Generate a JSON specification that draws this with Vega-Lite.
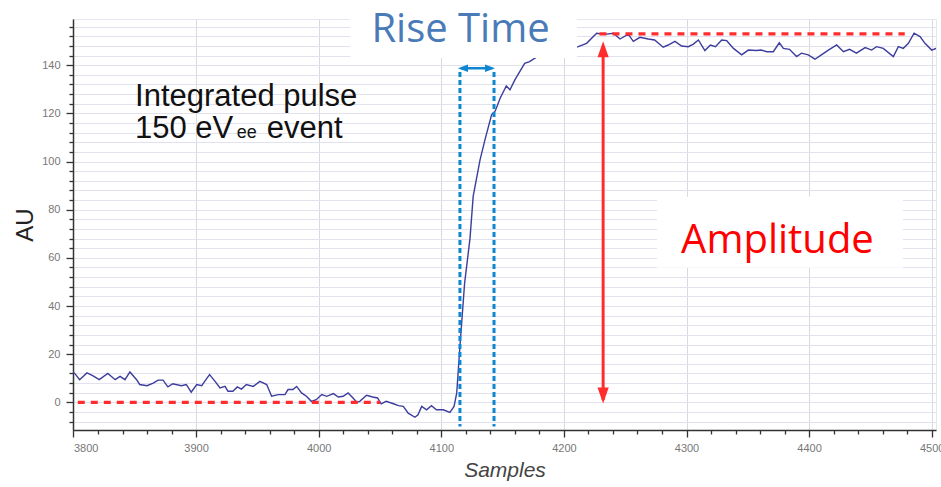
{
  "$schema": "https://vega.github.io/schema/vega-lite/v6.json",
  "width": 863,
  "height": 411,
  "autosize": {"type": "none"},
  "padding": {"left": 73, "top": 19, "right": 5, "bottom": 57},
  "background": "white",
  "config": {"view": {"stroke": "#e6e6ee", "strokeWidth": 1}},
  "datasets": {
    "pulse": [
      {"sample": 3799.6, "value": 12.5}, {"sample": 3801, "value": 12}, {"sample": 3805, "value": 9.4}, {"sample": 3811, "value": 12.2},
      {"sample": 3816, "value": 11}, {"sample": 3821, "value": 9.4}, {"sample": 3828, "value": 12}, {"sample": 3834, "value": 9.4},
      {"sample": 3838, "value": 10.8}, {"sample": 3842, "value": 9.4}, {"sample": 3846, "value": 12.6}, {"sample": 3851.5, "value": 9.4},
      {"sample": 3854, "value": 7.4}, {"sample": 3860, "value": 6.9}, {"sample": 3865, "value": 8}, {"sample": 3869, "value": 9.2},
      {"sample": 3873, "value": 9.2}, {"sample": 3877, "value": 6.4}, {"sample": 3881, "value": 7.7}, {"sample": 3888, "value": 6.9},
      {"sample": 3892, "value": 7.4}, {"sample": 3896, "value": 4.2}, {"sample": 3900.5, "value": 7.4}, {"sample": 3904.6, "value": 6.9},
      {"sample": 3907, "value": 8.7}, {"sample": 3911, "value": 11.5}, {"sample": 3915.5, "value": 8.7}, {"sample": 3919.5, "value": 6},
      {"sample": 3923.6, "value": 6.6}, {"sample": 3926, "value": 4.6}, {"sample": 3930, "value": 4.6}, {"sample": 3933.6, "value": 6.4},
      {"sample": 3937, "value": 5.5}, {"sample": 3941, "value": 7.4}, {"sample": 3946.6, "value": 6.6}, {"sample": 3952, "value": 8.7},
      {"sample": 3957.6, "value": 7.4}, {"sample": 3961.6, "value": 2.5}, {"sample": 3967, "value": 3.2}, {"sample": 3972.5, "value": 3.2},
      {"sample": 3975, "value": 5.3}, {"sample": 3979, "value": 5.3}, {"sample": 3982, "value": 6.6}, {"sample": 3986, "value": 3.9},
      {"sample": 3990, "value": 2.5}, {"sample": 3994, "value": 0.4}, {"sample": 3998, "value": 1.1}, {"sample": 4002.5, "value": 3.2},
      {"sample": 4006.6, "value": 2.5}, {"sample": 4012, "value": 3.6}, {"sample": 4016, "value": 2.2}, {"sample": 4020, "value": 2.5},
      {"sample": 4024, "value": 3.9}, {"sample": 4028, "value": 1.8}, {"sample": 4031, "value": 0}, {"sample": 4033.5, "value": 0.4},
      {"sample": 4039, "value": 2.9}, {"sample": 4044, "value": 2.2}, {"sample": 4048, "value": 1.8}, {"sample": 4051, "value": -0.6},
      {"sample": 4055, "value": 0.4}, {"sample": 4061, "value": -0.6}, {"sample": 4065, "value": -1.4}, {"sample": 4069, "value": -1.7},
      {"sample": 4073, "value": -4.5}, {"sample": 4078.5, "value": -6.2}, {"sample": 4081, "value": -5.2}, {"sample": 4084, "value": -1.7},
      {"sample": 4088, "value": -3.1}, {"sample": 4092, "value": -1.4}, {"sample": 4096, "value": -3.1}, {"sample": 4101.6, "value": -3.1},
      {"sample": 4107, "value": -4.2}, {"sample": 4110.4, "value": -1.7}, {"sample": 4112.6, "value": 3.9}, {"sample": 4115, "value": 21.8},
      {"sample": 4119, "value": 49.4}, {"sample": 4123.4, "value": 68}, {"sample": 4126, "value": 85.5}, {"sample": 4131.6, "value": 100.7},
      {"sample": 4135.6, "value": 109}, {"sample": 4141, "value": 119.4}, {"sample": 4144, "value": 121}, {"sample": 4148, "value": 126.3},
      {"sample": 4153, "value": 131.4}, {"sample": 4156, "value": 129.8}, {"sample": 4160, "value": 133.9}, {"sample": 4164, "value": 137.3},
      {"sample": 4168, "value": 140.8}, {"sample": 4172, "value": 141.5}, {"sample": 4178, "value": 143.5}, {"sample": 4184, "value": 145},
      {"sample": 4190, "value": 144.5}, {"sample": 4196, "value": 146.5}, {"sample": 4202, "value": 146}, {"sample": 4207, "value": 147},
      {"sample": 4211.7, "value": 147.7}, {"sample": 4218.5, "value": 149.1}, {"sample": 4226.7, "value": 153.3}, {"sample": 4233.5, "value": 152.8},
      {"sample": 4240.3, "value": 153.3}, {"sample": 4245.8, "value": 150.9}, {"sample": 4252.5, "value": 152.9}, {"sample": 4256.6, "value": 149.9},
      {"sample": 4262, "value": 151.6}, {"sample": 4268.8, "value": 150.9}, {"sample": 4274, "value": 150.5}, {"sample": 4281, "value": 147.5},
      {"sample": 4285, "value": 148.4}, {"sample": 4290.6, "value": 149.9}, {"sample": 4296, "value": 148}, {"sample": 4301.5, "value": 147.7},
      {"sample": 4305.6, "value": 148.8}, {"sample": 4309.7, "value": 150.5}, {"sample": 4315, "value": 146.1}, {"sample": 4319.5, "value": 148.4},
      {"sample": 4323.6, "value": 147.7}, {"sample": 4328.7, "value": 150.5}, {"sample": 4332.8, "value": 150.2}, {"sample": 4338.3, "value": 147},
      {"sample": 4345, "value": 144.3}, {"sample": 4350.4, "value": 146.3}, {"sample": 4357, "value": 146.1}, {"sample": 4361, "value": 146.3},
      {"sample": 4365.4, "value": 145.6}, {"sample": 4370.8, "value": 145.6}, {"sample": 4375.7, "value": 149.3}, {"sample": 4379, "value": 147},
      {"sample": 4384, "value": 146.6}, {"sample": 4389.8, "value": 143.6}, {"sample": 4393.8, "value": 145}, {"sample": 4399.3, "value": 144.3},
      {"sample": 4404.8, "value": 142.5}, {"sample": 4410, "value": 144.3}, {"sample": 4415.7, "value": 146.3}, {"sample": 4422.5, "value": 148.4},
      {"sample": 4428, "value": 145.6}, {"sample": 4433, "value": 146.6}, {"sample": 4438.6, "value": 145}, {"sample": 4445.7, "value": 147.3},
      {"sample": 4451, "value": 146.3}, {"sample": 4455, "value": 147.7}, {"sample": 4460.5, "value": 147}, {"sample": 4468.7, "value": 143.6},
      {"sample": 4472.8, "value": 147.7}, {"sample": 4476.8, "value": 147}, {"sample": 4481, "value": 149.1}, {"sample": 4485.6, "value": 153.3},
      {"sample": 4490.5, "value": 151.9}, {"sample": 4494.5, "value": 149.1}, {"sample": 4500, "value": 146.3}, {"sample": 4503.5, "value": 147}
    ],
    "redDash": [
      {"sample": 3803.5, "sample2": 4050, "value": 0},
      {"sample": 4229, "sample2": 4478, "value": 153}
    ],
    "redArrow": [{"sample": 4232, "value": 148, "value2": 1}],
    "redTop": [{"sample": 4232, "value": 150}],
    "redBottom": [{"sample": 4232, "value": -0.5}],
    "blueDot": [
      {"sample": 4115.2, "value": 137.2, "value2": -10},
      {"sample": 4143, "value": 137.2, "value2": -10}
    ],
    "blueArrow": [{"sample": 4116, "sample2": 4141.5, "value": 138.7}],
    "blueLeft": [{"sample": 4113.6, "value": 138.7}],
    "blueRight": [{"sample": 4143.8, "value": 138.7}],
    "boxes": [
      {"sample": 4025.6, "sample2": 4210.7, "value": 143, "value2": 168},
      {"sample": 4275.9, "sample2": 4476.5, "value": 55.9, "value2": 85.4}
    ],
    "riseLabel": [{"sample": 4115.7, "value": 149.8, "label": "Rise Time"}],
    "ampLabel": [{"sample": 4374.2, "value": 62, "label": "Amplitude"}],
    "bigText": [
      {"sample": 3850.2, "value": 123.2, "label": "Integrated pulse"},
      {"sample": 3850.2, "value": 109.7, "label": "150 eV"},
      {"sample": 3957.6, "value": 109.7, "label": "event"}
    ],
    "subText": [{"sample": 3933.1, "value": 109.7, "label": "ee"}]
  },
  "encoding": {
    "x": {
      "field": "sample", "type": "quantitative",
      "scale": {"domain": [3799.6, 4503.5], "nice": false, "zero": false},
      "axis": {
        "title": "Samples",
        "format": "d",
        "values": [3800,3820,3840,3860,3880,3900,3920,3940,3960,3980,4000,4020,4040,4060,4080,4100,4120,4140,4160,4180,4200,4220,4240,4260,4280,4300,4320,4340,4360,4380,4400,4420,4440,4460,4480,4500],
        "labelExpr": "datum.value % 100 === 0 ? datum.label : ''",
        "labelFont": "Liberation Sans", "labelFontSize": 11, "labelColor": "#777777", "labelPadding": 5,
        "tickColor": "#333333", "tickWidth": 1.3,
        "tickSize": {"condition": {"test": "datum.value % 100 === 0", "value": 7}, "value": 4},
        "domainColor": "#333333", "domainWidth": 1.5,
        "grid": true, "gridColor": "#d9d9e3", "gridWidth": 1,
        "gridOpacity": {"condition": {"test": "datum.value % 100 === 0", "value": 1}, "value": 0},
        "titleFont": "Liberation Sans", "titleFontSize": 21, "titleFontStyle": "italic", "titleFontWeight": "normal",
        "titleColor": "#444444", "titlePadding": 6
      }
    },
    "y": {
      "field": "value", "type": "quantitative",
      "scale": {"domain": [-11.5, 159.2], "nice": false, "zero": false},
      "axis": {
        "title": "AU",
        "format": "d",
        "values": [-8,-4,0,4,8,12,16,20,24,28,32,36,40,44,48,52,56,60,64,68,72,76,80,84,88,92,96,100,104,108,112,116,120,124,128,132,136,140,144,148,152,156],
        "labelExpr": "datum.value % 20 === 0 ? datum.label : ''",
        "labelFont": "Liberation Sans", "labelFontSize": 11, "labelColor": "#777777", "labelPadding": 6,
        "tickColor": "#333333", "tickWidth": 1.3,
        "tickSize": {"condition": {"test": "datum.value % 20 === 0", "value": 7}, "value": 4},
        "domainColor": "#333333", "domainWidth": 1.5,
        "grid": true, "gridColor": "#e2e2ee", "gridWidth": 1,
        "titleFont": "Liberation Sans", "titleFontSize": 24, "titleFontWeight": "normal",
        "titleColor": "#222222", "titlePadding": 4
      }
    }
  },
  "layer": [
    {"data": {"name": "pulse"}, "mark": {"type": "line", "color": "#3d3d9e", "strokeWidth": 1.4, "clip": true}},
    {"data": {"name": "redDash"}, "mark": {"type": "rule", "color": "#ff2d2d", "strokeWidth": 3.2, "strokeDash": [7, 6]},
     "encoding": {"x2": {"field": "sample2"}}},
    {"data": {"name": "blueDot"}, "mark": {"type": "rule", "color": "#0f86d2", "strokeWidth": 3, "strokeDash": [5, 3]},
     "encoding": {"y2": {"field": "value2"}}},
    {"data": {"name": "blueArrow"}, "mark": {"type": "rule", "color": "#0f86d2", "strokeWidth": 2.5},
     "encoding": {"x2": {"field": "sample2"}}},
    {"data": {"name": "blueLeft"}, "mark": {"type": "point", "shape": "M0,0L2,-0.75L2,0.75Z", "size": 100, "filled": true, "color": "#0f86d2", "opacity": 1}},
    {"data": {"name": "blueRight"}, "mark": {"type": "point", "shape": "M0,0L-2,-0.75L-2,0.75Z", "size": 100, "filled": true, "color": "#0f86d2", "opacity": 1}},
    {"data": {"name": "redArrow"}, "mark": {"type": "rule", "color": "#ff2d2d", "strokeWidth": 3},
     "encoding": {"y2": {"field": "value2"}}},
    {"data": {"name": "redTop"}, "mark": {"type": "point", "shape": "M0,0L0.7,2L-0.7,2Z", "size": 256, "filled": true, "color": "#ff2d2d", "opacity": 1}},
    {"data": {"name": "redBottom"}, "mark": {"type": "point", "shape": "M0,0L0.7,-2L-0.7,-2Z", "size": 256, "filled": true, "color": "#ff2d2d", "opacity": 1}},
    {"data": {"name": "boxes"}, "mark": {"type": "rect", "color": "white", "opacity": 1},
     "encoding": {"x2": {"field": "sample2"}, "y2": {"field": "value2"}}},
    {"data": {"name": "riseLabel"}, "mark": {"type": "text", "font": "Open Sans", "fontSize": 40, "color": "#4a7bb8", "align": "center", "baseline": "alphabetic"},
     "encoding": {"text": {"field": "label"}}},
    {"data": {"name": "ampLabel"}, "mark": {"type": "text", "font": "Open Sans", "fontSize": 40, "color": "#ff0000", "align": "center", "baseline": "alphabetic"},
     "encoding": {"text": {"field": "label"}}},
    {"data": {"name": "bigText"}, "mark": {"type": "text", "font": "Liberation Sans", "fontSize": 31, "color": "#111111", "align": "left", "baseline": "alphabetic"},
     "encoding": {"text": {"field": "label"}}},
    {"data": {"name": "subText"}, "mark": {"type": "text", "font": "Liberation Sans", "fontSize": 18, "color": "#111111", "align": "left", "baseline": "alphabetic"},
     "encoding": {"text": {"field": "label"}}}
  ]
}
